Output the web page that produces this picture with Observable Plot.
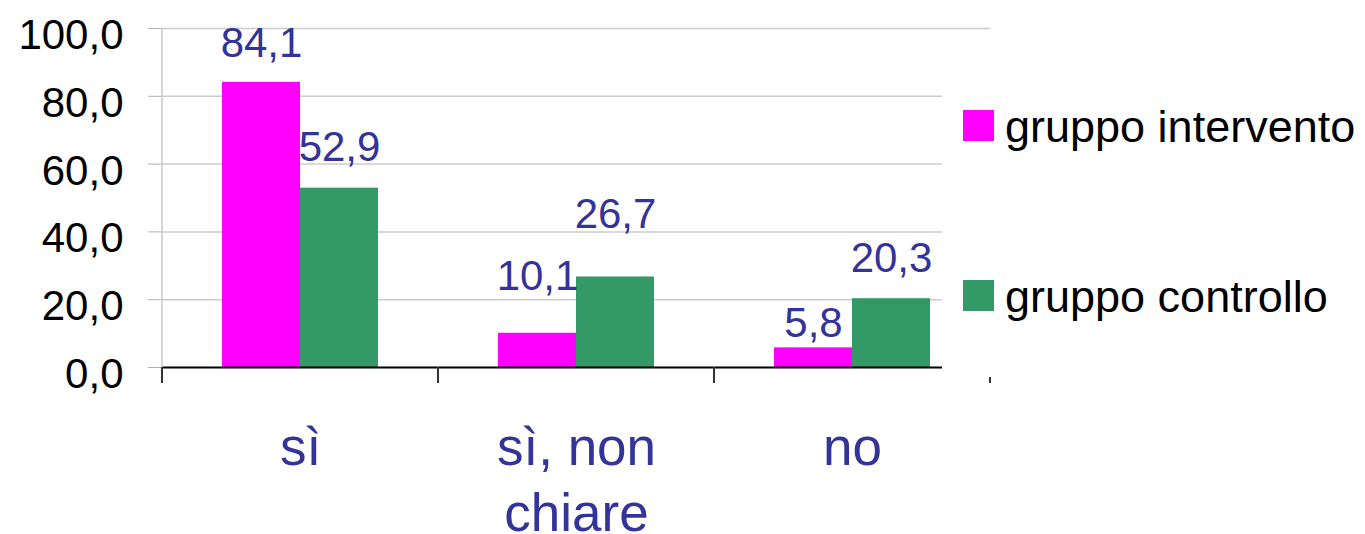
<!DOCTYPE html>
<html>
<head>
<meta charset="utf-8">
<script src="https://cdn.jsdelivr.net/npm/d3@7"></script>
<script src="https://cdn.jsdelivr.net/npm/@observablehq/plot@0.6"></script>
<style>
  body { margin: 0; background: #fff; }
  #wrap { position: relative; width: 1365px; height: 534px; font-family: Arial, "Liberation Sans", sans-serif; }
  #legend { position: absolute; left: 942px; top: 40px; width: 423px; height: 337px; background: #fff; }
  .sw { position: absolute; left: 21px; width: 31px; height: 31px; }
  .lt { position: absolute; left: 63px; font-size: 45px; line-height: 45px; color: #000; white-space: nowrap; }
</style>
</head>
<body>
<div id="wrap"></div>
<script>
// ---- data ----
const categories = ["sì", "sì, non chiare", "no"];
const categoryLabels = ["sì", "sì, non\nchiare", "no"];
const series = ["gruppo intervento", "gruppo controllo"];
const intervento = [84.1, 10.1, 5.8];
const controllo = [52.9, 26.7, 20.3];
const yTicks = [0, 20, 40, 60, 80, 100];
const colors = ["#FF00FF", "#339966"];

// ---- layout (label offsets as placed in the original) ----
const labelDy = [[-25, -43, -11], [-27, -49, -27]];

const rows = [];
categories.forEach((c, i) => {
  rows.push({category: c, series: series[0], value: intervento[i], si: 0, ci: i});
  rows.push({category: c, series: series[1], value: controllo[i], si: 1, ci: i});
});
const fmt = d => d.toFixed(1).replace(".", ",");
const labelColor = "#333399";

const labelMarks = rows.map(r => Plot.text([r], {
  fx: "category", x: "series", y: "value", text: d => fmt(d.value),
  fill: labelColor, fontSize: 42, lineAnchor: "bottom", dy: labelDy[r.si][r.ci]
}));

const svg = Plot.plot({
  width: 1365,
  height: 534,
  marginLeft: 161,
  marginRight: 375,
  marginTop: 28,
  marginBottom: 167,
  style: {fontFamily: "Arial, 'Liberation Sans', sans-serif", background: "#fff", overflow: "visible"},
  fx: {domain: categories, paddingInner: 0, paddingOuter: 0, label: null},
  x: {domain: series, paddingInner: 0, paddingOuter: 0.75, axis: null},
  y: {domain: [0, 100], label: null},
  color: {domain: series, range: colors},
  marks: [
    Plot.ruleY(yTicks.filter(t => t > 0), {stroke: "#cccccc", strokeWidth: 1.5}),
    Plot.barY(rows, {fx: "category", x: "series", y: "value", fill: "series"}),
    Plot.ruleY([0], {stroke: "#000", strokeWidth: 2}),
    Plot.axisY({ticks: yTicks, tickSize: 14, stroke: "#b0b0b0", fill: "none", label: null}),
    Plot.axisY({ticks: yTicks, tickSize: 0, tickPadding: 39, fill: "#000", fontSize: 42, dy: 7, tickFormat: fmt, label: null}),
    Plot.axisFx({anchor: "bottom", tickSize: 0, tickPadding: 50, fontSize: 53, fill: labelColor, lineHeight: 1.25,
      tickFormat: d => categoryLabels[categories.indexOf(d)], label: null}),
    ...labelMarks
  ]
});

// frame line on the left and category boundary ticks, from the plot's own scales
const fxs = svg.scale("fx");
const ys = svg.scale("y");
const step = fxs.step ?? fxs.bandwidth;
const edges = categories.map(c => fxs.apply(c));
edges.push(fxs.apply(categories[categories.length - 1]) + step);
const y0 = ys.apply(0), yTop = ys.apply(100);
const sel = d3.select(svg);
sel.append("line").attr("x1", edges[0]).attr("x2", edges[0]).attr("y1", yTop).attr("y2", y0)
  .attr("stroke", "#c8c8c8").attr("stroke-width", 1.5);
edges.forEach(x => sel.append("line").attr("x1", x).attr("x2", x).attr("y1", y0).attr("y2", y0 + 16)
  .attr("stroke", "#333").attr("stroke-width", 2));

const wrap = document.getElementById("wrap");
wrap.appendChild(svg);

// legend
const legend = document.createElement("div");
legend.id = "legend";
const tops = [[70, 64], [240, 234]];
series.forEach((s, i) => {
  const sw = document.createElement("div");
  sw.className = "sw"; sw.style.top = tops[i][0] + "px"; sw.style.background = colors[i];
  const t = document.createElement("div");
  t.className = "lt"; t.style.top = tops[i][1] + "px"; t.textContent = s;
  legend.appendChild(sw); legend.appendChild(t);
});
wrap.appendChild(legend);
</script>
</body>
</html>
